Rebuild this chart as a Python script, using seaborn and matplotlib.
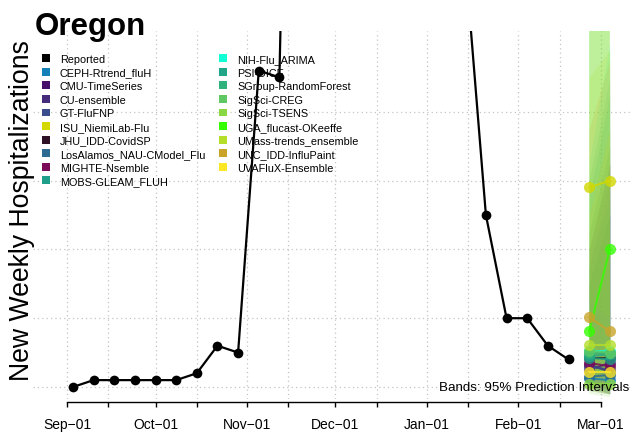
import pandas as pd
import numpy as np
import matplotlib
matplotlib.use("Agg")
import matplotlib.pyplot as plt
import matplotlib.dates as mdates
from matplotlib.patches import Patch
import seaborn as sns

# reported weekly hospitalizations (Oregon)
reported_start = "2022-09-03"
reported_values = [20, 22, 22, 22, 22, 22, 24, 32, 30, 112, 110, 380, 520, 560,
                   470, 380, 300, 230, 175, 144, 70, 40, 40, 32, 28]

models = ["CEPH-Rtrend_fluH", "CMU-TimeSeries", "CU-ensemble", "GT-FluFNP",
          "ISU_NiemiLab-Flu", "JHU_IDD-CovidSP", "LosAlamos_NAU-CModel_Flu",
          "MIGHTE-Nsemble", "MOBS-GLEAM_FLUH", "NIH-Flu_ARIMA", "PSI-DICE",
          "SGroup-RandomForest", "SigSci-CREG", "SigSci-TSENS",
          "UGA_flucast-OKeeffe", "UMass-trends_ensemble", "UNC_IDD-InfluPaint",
          "UVAFluX-Ensemble"]
model_colors = ["#1380b8", "#46106a", "#482c7c", "#3b4c8c", "#d2d800", "#2d1022",
                "#2c6a90", "#7a0a58", "#1f9e89", "#10ffd4", "#21a586", "#2eb37c",
                "#5ec962", "#8ad744", "#33ff00", "#b5de2b", "#c8a52a", "#fde725"]

fc_dates = ["2023-02-25", "2023-03-04"]
median_wk1 = [22.5, 26.5, 25.0, 26.0, 78.0, 28.3, 23.0, 27.0, 28.5, 30.5, 29.0,
              30.0, 30.5, 21.0, 36.2, 32.3, 40.3, 24.3]
median_wk2 = [22.0, 24.5, 27.0, 25.0, 80.0, 28.3, 23.5, 26.0, 28.0, 30.5, 29.5,
              30.0, 30.0, 21.0, 60.1, 32.3, 36.2, 24.3]
lower_wk1 = [19, 20, 20, 21, 45, 21, 19, 20, 21, 20, 21, 22, 20, 18, 22, 19, 22, 19]
lower_wk2 = [18, 18, 19, 20, 40, 19, 18, 18, 20, 18, 19, 21, 18, 17, 26, 18, 20, 18]
upper_wk1 = [50, 60, 55, 50, 110, 65, 55, 60, 70, 85, 75, 80, 135, 140, 150, 145, 95, 70]
upper_wk2 = [70, 85, 80, 70, 118, 90, 75, 85, 95, 120, 105, 110, 190, 200, 220, 210, 115, 95]

tick_dates = ["2022-09-01", "2022-09-15", "2022-10-01", "2022-10-15", "2022-11-01",
              "2022-11-15", "2022-12-01", "2022-12-15", "2023-01-01", "2023-01-15",
              "2023-02-01", "2023-02-15", "2023-03-01"]
tick_labels = ["Sep\u221201", "", "Oct\u221201", "", "Nov\u221201", "", "Dec\u221201", "",
               "Jan\u221201", "", "Feb\u221201", "", "Mar\u221201"]
grid_values = [20, 40, 60, 80, 100]

sns.set_style("white")
plt.rcParams["font.family"] = ["Liberation Sans", "DejaVu Sans"]
plt.rcParams["text.color"] = "black"
plt.rcParams["xtick.color"] = "black"
plt.rcParams["xtick.labelcolor"] = "black"

W, H = 632, 435
fig = plt.figure(figsize=(W / 100, H / 100), dpi=100)
ax = fig.add_axes([33 / W, 1 - 400 / H, (W - 33) / W, (400 - 32) / H])

rep = pd.DataFrame({"date": pd.date_range(reported_start, periods=len(reported_values), freq="7D"),
                    "value": reported_values})

fc = pd.DataFrame({
    "model": np.repeat(models, 2),
    "date": pd.to_datetime(fc_dates * len(models)),
    "median": np.ravel(np.column_stack([median_wk1, median_wk2])),
})
palette = dict(zip(models, model_colors))

# prediction bands
fd = pd.to_datetime(fc_dates)
for i, m in enumerate(models):
    ax.fill_between(fd, [lower_wk1[i], lower_wk2[i]], [upper_wk1[i], upper_wk2[i]],
                    color=model_colors[i], alpha=0.15, linewidth=0, zorder=2)

sns.lineplot(data=fc, x="date", y="median", hue="model", palette=palette, marker="o",
             markersize=8, markeredgewidth=0, linewidth=1.5, alpha=0.8, ax=ax,
             legend=False, zorder=3)
sns.lineplot(data=rep, x="date", y="value", color="black", marker="o", markersize=7,
             markeredgewidth=0, linewidth=1.6, ax=ax, legend=False, zorder=4)

ax.set_xlim(pd.Timestamp("2022-09-01") - pd.Timedelta(days=34 / 2.95),
            pd.Timestamp("2022-09-01") + pd.Timedelta(days=565 / 2.95))
ax.set_ylim(20 - 12 / 3.44, 20 + 356 / 3.44)

ax.set_xticks(pd.to_datetime(tick_dates))
ax.set_xticklabels(tick_labels, fontsize=11)
ax.set_yticks(grid_values)
ax.set_yticklabels([])
ax.tick_params(axis="y", length=0, left=False)
ax.tick_params(axis="x", bottom=True, direction="out", length=3.6, width=1, pad=7,
               color="black", labelcolor="black")
ax.grid(True, color="#c4c4c4", linestyle=(0, (1, 2.5)), linewidth=0.9)
ax.set_xlabel("")
ax.set_ylabel("")
for s in ["left", "top", "right"]:
    ax.spines[s].set_visible(False)
ax.spines["bottom"].set_bounds(mdates.date2num(pd.Timestamp(tick_dates[0])),
                               mdates.date2num(pd.Timestamp(tick_dates[-1])))
ax.spines["bottom"].set_position(("outward", 2.2))
ax.spines["bottom"].set_linewidth(1)
ax.spines["bottom"].set_color("black")

handles = [Patch(facecolor="black", edgecolor="none")] + \
          [Patch(facecolor=c, edgecolor="none") for c in model_colors]
labels = ["Reported"] + models
leg = ax.legend(handles, labels, ncol=2, loc="upper left", frameon=False,
                bbox_to_anchor=(42 / W, 1 - 55 / H), bbox_transform=fig.transFigure,
                fontsize=7.8, handlelength=0.75, handleheight=0.75, handletextpad=0.9,
                columnspacing=1.3, labelspacing=0.33, borderpad=0, borderaxespad=0)
leg.set_zorder(1)
for t in leg.get_texts():
    t.set_color("black")

fig.text(35 / W, 1 - 35 / H, "Oregon", fontsize=22.5, fontweight="bold",
         ha="left", va="baseline")
fig.text(22 / W, 1 - 211 / H, "New Weekly Hospitalizations", fontsize=19.2,
         rotation=90, ha="center", va="center")
fig.text(629 / W, 1 - 391 / H, "Bands: 95% Prediction Intervals", fontsize=9.6,
         ha="right", va="baseline", zorder=10)

fig.savefig("out.png", dpi=100)
